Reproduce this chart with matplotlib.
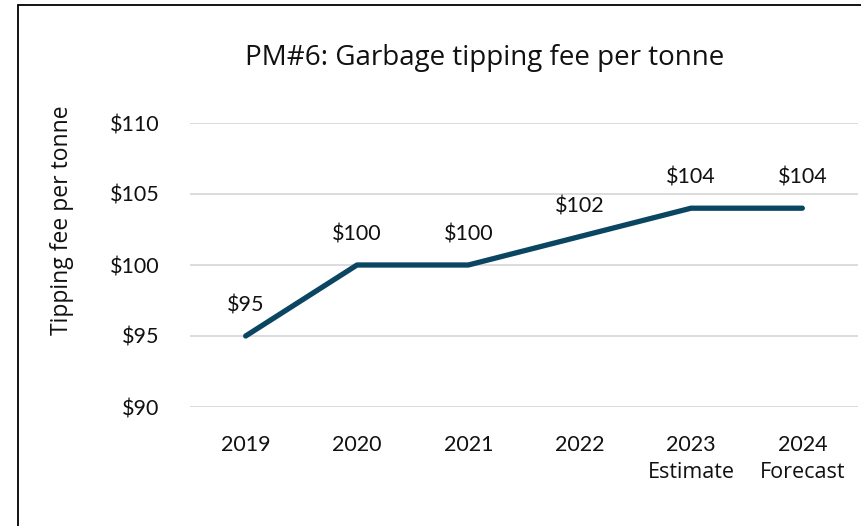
import matplotlib.pyplot as plt
from matplotlib.patches import Rectangle

years = ["2019", "2020", "2021", "2022", "2023", "2024"]
subtitles = ["", "", "", "", "Estimate", "Forecast"]
fees = [95, 100, 100, 102, 104, 104]
yticks = [90, 95, 100, 105, 110]

line_color = "#0a4562"
font = "Lato"

fig = plt.figure(figsize=(8.62, 5.26), dpi=100)
ax = fig.add_axes([190 / 862, 1 - 407 / 526, 668 / 862, 284 / 526])

x = list(range(len(years)))
ax.plot(x, fees, color=line_color, lw=3.8, solid_capstyle="round", zorder=3, clip_on=False)
for xi, v in zip(x, fees):
    ax.annotate(f"${v}", (xi, v), xytext=(0, 22), textcoords="offset points",
                ha="center", va="center", fontsize=15.5, family=font, color="#111111")

ax.set_xlim(-0.5, len(years) - 0.5)
ax.set_ylim(90, 110)
ax.set_yticks(yticks)
ax.set_yticklabels([f"${t}" for t in yticks], family=font, fontsize=15.5)
ax.set_xticks(x)
ax.set_xticklabels(years, family=font, fontsize=15.5)
ax.tick_params(axis="both", length=0, colors="#111111")
ax.tick_params(axis="x", pad=20)
ax.tick_params(axis="y", pad=22)
ax.grid(axis="y", color="#d9d9d9", lw=1.3)
ax.set_axisbelow(True)
for s in ax.spines.values():
    s.set_visible(False)

for xi, s in zip(x, subtitles):
    if s:
        ax.annotate(s, (xi, 90), xytext=(0, -66), textcoords="offset pixels",
                    ha="center", va="center", fontsize=15.5, family="Open Sans",
                    color="#111111", annotation_clip=False)

fig.text(485 / 862, 1 - 58 / 526, "PM#6: Garbage tipping fee per tonne",
         ha="center", va="center", fontsize=20, family="Open Sans", color="#111111")
fig.text(62 / 862, 1 - 220 / 526, "Tipping fee per tonne", rotation=90,
         ha="center", va="center", fontsize=16.5, family="Open Sans", color="#111111")

fig.add_artist(Rectangle((18 / 862, -0.05), 1.0, 1 - 5 / 526 + 0.05,
                         transform=fig.transFigure, fill=False, ec="black", lw=1.3))

fig.savefig("out.png", dpi=100)
